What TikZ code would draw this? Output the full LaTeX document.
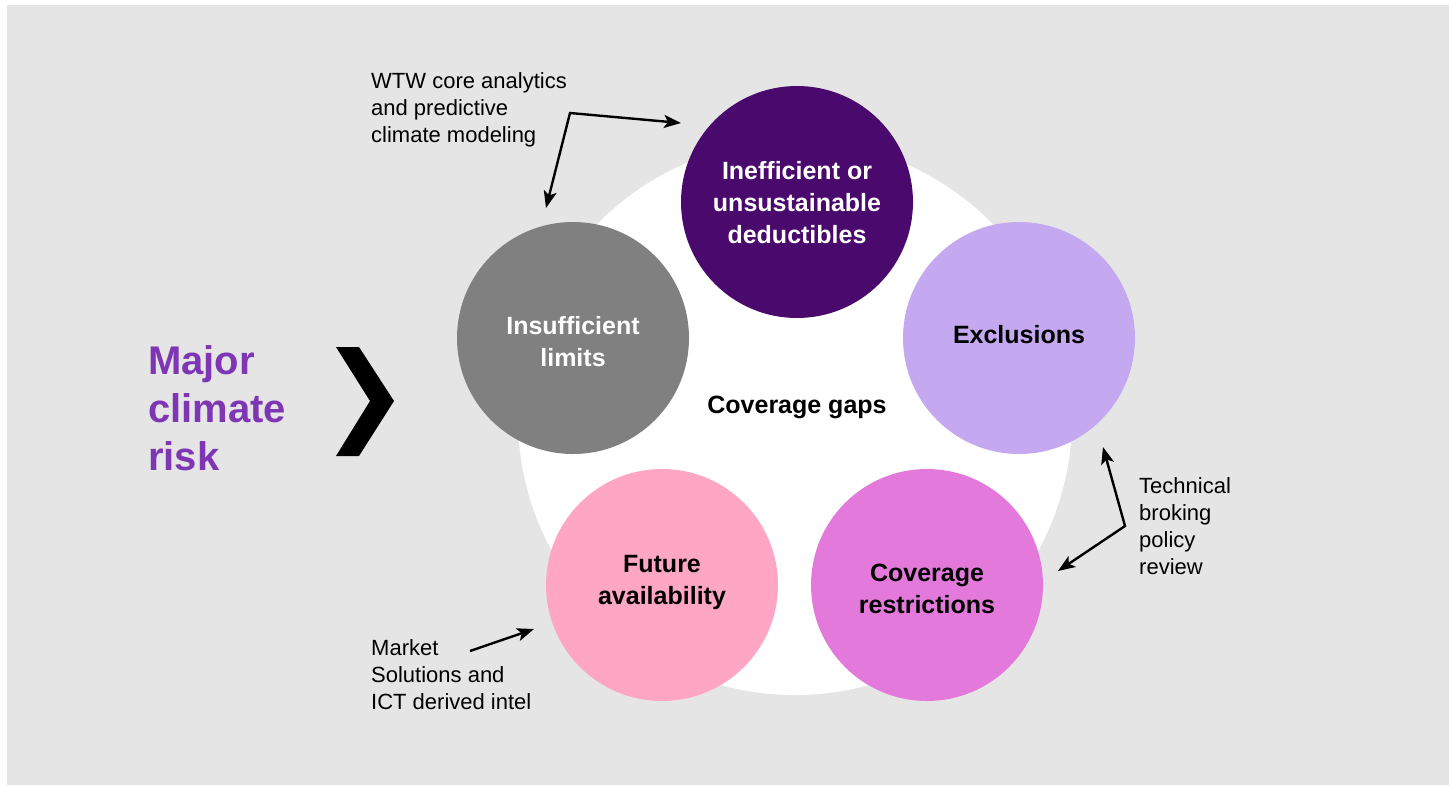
\documentclass[tikz,border=0pt]{standalone}
\usepackage{fontspec}
\setmainfont{Liberation Sans}
\usetikzlibrary{arrows.meta,positioning,calc}
\definecolor{bggrey}{RGB}{229,229,229}
\definecolor{darkpurple}{RGB}{74,9,108}
\definecolor{lightpurple}{RGB}{196,168,240}
\definecolor{orchid}{RGB}{227,122,219}
\definecolor{lightpink}{RGB}{255,166,196}
\definecolor{midgrey}{RGB}{128,128,128}
\definecolor{riskpurple}{RGB}{126,54,181}

\begin{document}
\begin{tikzpicture}[x=1pt,y=-1pt,
  gap/.style={circle,draw=none,minimum size=232pt,inner sep=0pt},
  gaptext/.style={inner sep=0pt,align=center,font=\fontsize{25}{32}\selectfont\bfseries},
  note/.style={anchor=west,inner sep=0pt,align=left,font=\fontsize{22}{27}\selectfont},
  pointer/.style={line width=2.4pt,line join=miter,black}]
   \useasboundingbox (0,0) rectangle (1449,785);
   \fill[bggrey] (7,5) rectangle (1449,785);
   % white disc behind the gaps
   \node (hub) at (795,418) [circle,fill=white,minimum size=554pt,inner sep=0pt] {};
   \node (gaps) at (797,407) [gaptext] {Coverage gaps};
   \foreach \x/\y/\c/\t/\n/\dy/\txt in {
      573/338/midgrey/white/limits/4/{Insufficient\\limits},
      797/202/darkpurple/white/deduct/1/{Inefficient or\\unsustainable\\deductibles},
      1019/338/lightpurple/black/excl/-3/{Exclusions},
      927/585/orchid/black/restr/4/{Coverage\\restrictions},
      662/585/lightpink/black/future/-3/{Future\\availability}} {
    \node (\n) at (\x,\y) [gap,fill=\c] {};
    \node (\n-txt) at (\x,{\y+\dy}) [gaptext,text=\t] {\txt};
   }
   % left side
   \node (risk) at (148,408) [anchor=west,inner sep=0pt,align=left,text=riskpurple,
      font=\fontsize{40}{48}\selectfont\bfseries] {Major\\climate\\risk};
   \fill[black] (336,347) -- (359,347) -- (394,401) -- (359,456) -- (336,456) -- (370,401) -- cycle;
   % notes
   \node (wtw) at (371,110) [note] {WTW core analytics\\and predictive\\climate modeling};
   \node (tech) at (1139,526) [note] {Technical\\broking\\policy\\review};
   \node (mkt) at (371,675) [note] {Market\\Solutions and\\ICT derived intel};
   \coordinate (wtwbend) at (570,113);
   \coordinate (wtwa) at (681,123);
   \coordinate (wtwb) at (546,208);
   \coordinate (techbend) at (1125,526);
   \coordinate (techa) at (1103,447);
   \coordinate (techb) at (1058,571);
   \coordinate (mkta) at (470,651);
   \coordinate (mktb) at (534,629);
   \draw[pointer,{Stealth[length=17pt,width=13pt,inset=4pt]}-{Stealth[length=17pt,width=13pt,inset=4pt]}] (wtwb) -- (wtwbend) -- (wtwa);
   \draw[pointer,{Stealth[length=17pt,width=13pt,inset=4pt]}-{Stealth[length=17pt,width=13pt,inset=4pt]}] (techa) -- (techbend) -- (techb);
   \draw[pointer,-{Stealth[length=17pt,width=13pt,inset=4pt]}] (mkta) -- (mktb);
\end{tikzpicture}
\end{document}
